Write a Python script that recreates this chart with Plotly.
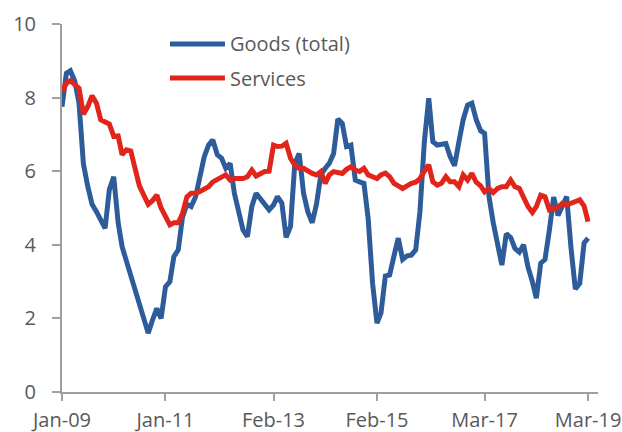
import pandas as pd
import plotly.graph_objects as go

dates = pd.date_range("2009-01-01", "2019-03-01", freq="MS")

goods = [7.75, 8.66, 8.73, 8.45, 7.85, 6.2, 5.6, 5.1, 4.9, 4.65,
         4.45, 5.5, 5.85, 4.6, 3.95, 3.55, 3.15, 2.75, 2.35, 2.0,
         1.6, 1.95, 2.27, 2.0, 2.86, 3.0, 3.68, 3.86, 4.75, 5.1,
         5.04, 5.3, 5.85, 6.39, 6.71, 6.85, 6.45, 6.35, 6.08, 6.21,
         5.4, 4.95, 4.4, 4.22, 5.04, 5.4, 5.26, 5.1, 4.95, 5.08,
         5.31, 5.13, 4.2, 4.5, 6.2, 6.48, 5.4, 4.9, 4.6, 5.1,
         5.9, 6.08, 6.21, 6.48, 7.42, 7.3, 6.67, 6.71, 5.76, 5.71,
         5.67, 4.7, 2.95, 1.87, 2.14, 3.15, 3.18, 3.7, 4.18, 3.6,
         3.7, 3.72, 3.86, 4.9, 6.8, 7.98, 6.8, 6.71, 6.72, 6.75,
         6.4, 6.15, 6.8, 7.4, 7.8, 7.85, 7.4, 7.1, 7.03, 5.31,
         4.6, 4.0, 3.45, 4.3, 4.2, 3.9, 3.8, 4.0, 3.4, 3.0,
         2.55, 3.5, 3.6, 4.4, 5.3, 4.8, 5.1, 5.31, 3.9, 2.8,
         2.95, 4.05, 4.18]

services = [8.16, 8.39, 8.46, 8.34, 8.25, 7.55, 7.75, 8.05, 7.85, 7.4,
            7.32, 7.28, 6.95, 6.96, 6.45, 6.58, 6.55, 6.1, 5.6, 5.35,
            5.1, 5.2, 5.35, 5.0, 4.75, 4.54, 4.6, 4.6, 4.85, 5.3,
            5.4, 5.4, 5.45, 5.53, 5.58, 5.71, 5.78, 5.82, 5.9, 5.76,
            5.8, 5.8, 5.8, 5.85, 6.03, 5.87, 5.95, 5.99, 6.0, 6.71,
            6.67, 6.68, 6.76, 6.35, 6.17, 6.08, 6.08, 6.0, 5.94, 5.9,
            5.99, 5.67, 5.9, 5.99, 5.95, 5.94, 6.05, 6.12, 6.03, 5.99,
            6.08, 5.9, 5.85, 5.8, 5.9, 5.95, 5.85, 5.67, 5.6, 5.53,
            5.6, 5.67, 5.7, 5.8, 6.0, 6.17, 5.71, 5.62, 5.67, 5.85,
            5.71, 5.71, 5.58, 5.9, 5.76, 5.94, 5.7, 5.6, 5.44, 5.53,
            5.42, 5.53, 5.58, 5.58, 5.76, 5.58, 5.53, 5.26, 5.04, 4.88,
            5.04, 5.35, 5.31, 4.95, 4.99, 5.02, 5.13, 5.08, 5.13, 5.17,
            5.22, 5.05, 4.63]

tick_dates = ["2009-01-01", "2011-01-01", "2013-02-01", "2015-02-01",
              "2017-03-01", "2019-03-01"]
tick_labels = ["Jan-09", "Jan-11", "Feb-13", "Feb-15", "Mar-17", "Mar-19"]

BLUE = "#2E5C9B"
RED = "#E1251B"
GREY_TXT = "#595959"
AXIS = "#A0A0A0"
FONT = "Open Sans"
FS = 20

fig = go.Figure()
fig.add_trace(go.Scatter(x=dates, y=goods, mode="lines", name="Goods (total)",
                         line=dict(color=BLUE, width=5), showlegend=False))
fig.add_trace(go.Scatter(x=dates, y=services, mode="lines", name="Services",
                         line=dict(color=RED, width=5), showlegend=False))

# legend drawn manually (long line samples as in the reference)
legend_items = [("Goods (total)", BLUE, 0.9457), ("Services", RED, 0.853)]
for name, col, yy in legend_items:
    fig.add_shape(type="line", xref="paper", yref="paper",
                  x0=0.2015, x1=0.304, y0=yy, y1=yy,
                  line=dict(color=col, width=5))
    fig.add_annotation(xref="paper", yref="paper", x=0.31, y=yy,
                       text=name, showarrow=False, xanchor="left",
                       yanchor="middle",
                       font=dict(family=FONT, size=FS, color=GREY_TXT))

fig.update_layout(
    width=622, height=432,
    margin=dict(l=62, r=24, t=24, b=40, autoexpand=False),
    paper_bgcolor="white", plot_bgcolor="white",
    font=dict(family=FONT, size=FS, color=GREY_TXT),
    xaxis=dict(type="date", range=["2009-01-01", "2019-05-10"],
               tickvals=tick_dates, ticktext=tick_labels, automargin=False,
               showgrid=False, zeroline=False, showline=True,
               linecolor=AXIS, linewidth=2, ticks="outside", ticklen=7,
               tickwidth=2, tickcolor=AXIS, ticklabelstandoff=2,
               tickfont=dict(family=FONT, size=FS, color=GREY_TXT)),
    yaxis=dict(range=[0, 10], tickvals=[0, 2, 4, 6, 8, 10], automargin=False,
               showgrid=False, zeroline=False, showline=True,
               linecolor=AXIS, linewidth=2, ticks="outside", ticklen=8,
               tickwidth=2, tickcolor=AXIS, ticklabelstandoff=12,
               tickfont=dict(family=FONT, size=FS, color=GREY_TXT)),
)

fig.write_html("out.html")
